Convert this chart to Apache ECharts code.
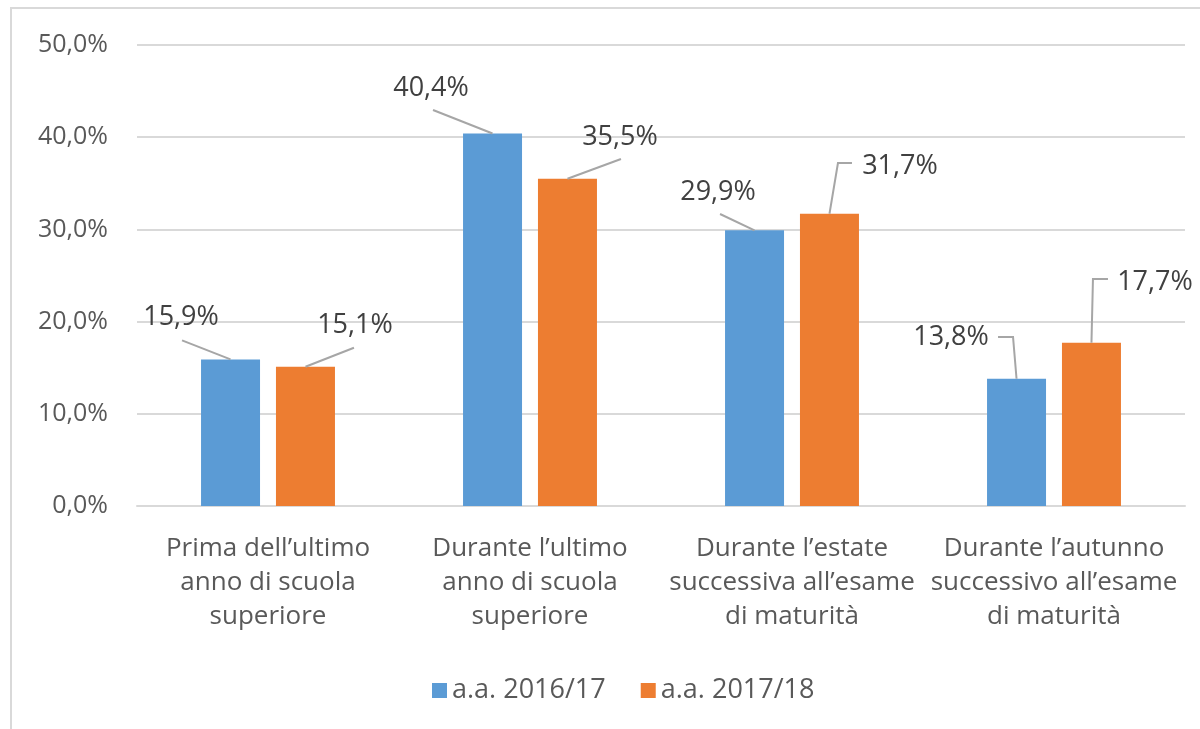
<!DOCTYPE html>
<html>
<head>
<meta charset="utf-8">
<script src="https://cdn.jsdelivr.net/npm/echarts@6/dist/echarts.min.js"></script>
<style>
  html, body { margin: 0; padding: 0; background: #ffffff; }
  #chart { width: 1200px; height: 729px; }
</style>
</head>
<body>
<div id="chart"></div>
<script>
const categories = [
  "Prima dell’ultimo\nanno di scuola\nsuperiore",
  "Durante l’ultimo\nanno di scuola\nsuperiore",
  "Durante l’estate\nsuccessiva all’esame\ndi maturità",
  "Durante l’autunno\nsuccessivo all’esame\ndi maturità"
];
const seriesNames = ["a.a. 2016/17", "a.a. 2017/18"];
const values2016 = [15.9, 40.4, 29.9, 13.8];
const values2017 = [15.1, 35.5, 31.7, 17.7];
const yTicks = { min: 0, max: 50, interval: 10 };

// Style: pixel placement of each data label relative to its bar's top centre,
// and the leader-line points (also relative to the bar's top centre).
const labelPos2016 = [[-49.5, -42], [-61.5, -45.5], [-36.5, -38.3], [-65.5, -41.8]];
const labelPos2017 = [[49.5, -41], [52.5, -41.7], [70.5, -47.7], [63.5, -60.8]];
const leader2016 = [
  [[-48.5, -19], [0, 0]],
  [[-59.5, -23.5], [0, 0]],
  [[-34.5, -16.3], [0, 0]],
  [[-18.5, -41.8], [-3.5, -41.8], [0, 0]]
];
const leader2017 = [
  [[48.5, -19], [0, 0]],
  [[53.5, -19.7], [0, 0]],
  [[22.5, -50.7], [8.5, -50.7], [0, 0]],
  [[16.5, -63.8], [1.5, -63.8], [0, 0]]
];

const FONT = "Open Sans";
const TEXT = "#595959";
const BAR_W = 59;
const BAR_GAP = 0.27;
const BAR_SHIFT = (BAR_W + BAR_W * BAR_GAP) / 2;
const fmt = v => Number(v).toFixed(1).replace('.', ',') + '%';

const chart = echarts.init(document.getElementById('chart'), null, { renderer: 'canvas' });

function barSeries(name, data, color) {
  return {
    name: name,
    type: 'bar',
    data: data,
    barWidth: BAR_W,
    barGap: (BAR_GAP * 100) + '%',
    itemStyle: { color: color },
    emphasis: { disabled: true }
  };
}

function labelSeries(name, data, side, labelPos, leader) {
  return {
    name: name,
    type: 'custom',
    data: data.map((v, i) => [i, v]),
    z: 5,
    silent: true,
    renderItem: function (params, api) {
      const i = params.dataIndex;
      const p = api.coord([api.value(0), api.value(1)]);
      const x0 = p[0] + side * BAR_SHIFT;
      const y0 = p[1];
      const lp = labelPos[i];
      const pts = leader[i].map(q => [x0 + q[0], y0 + q[1]]);
      return {
        type: 'group',
        children: [
          {
            type: 'polyline',
            shape: { points: pts },
            style: { stroke: '#a6a6a6', lineWidth: 2, fill: 'none' }
          },
          {
            type: 'text',
            style: {
              x: x0 + lp[0],
              y: y0 + lp[1],
              text: fmt(api.value(1)),
              align: 'center',
              verticalAlign: 'middle',
              fontFamily: FONT,
              fontSize: 27,
              fill: '#404040'
            }
          }
        ]
      };
    }
  };
}

chart.setOption({
  animation: false,
  backgroundColor: '#ffffff',
  textStyle: { fontFamily: FONT },
  graphic: [{
    type: 'rect',
    shape: { x: 11, y: 8, width: 1250, height: 800 },
    style: { fill: 'none', stroke: '#d9d9d9', lineWidth: 2 },
    silent: true,
    z: -10
  }],
  grid: { left: 137, right: 15, top: 45, bottom: 223, containLabel: false },
  legend: {
    data: seriesNames,
    left: 427,
    top: 672,
    icon: 'rect',
    itemWidth: 15,
    itemHeight: 15,
    itemGap: 35,
    textStyle: { fontFamily: FONT, fontSize: 27, color: TEXT }
  },
  xAxis: {
    type: 'category',
    data: categories,
    axisLine: { show: true, lineStyle: { color: '#d9d9d9', width: 2 } },
    axisTick: { show: false },
    axisLabel: {
      interval: 0,
      margin: 26,
      fontFamily: FONT,
      fontSize: 26,
      lineHeight: 34,
      color: TEXT,
      align: 'center'
    }
  },
  yAxis: {
    type: 'value',
    min: yTicks.min,
    max: yTicks.max,
    interval: yTicks.interval,
    axisLine: { show: false },
    axisTick: { show: false },
    splitLine: { lineStyle: { color: '#d9d9d9', width: 2 } },
    axisLabel: {
      margin: 29,
      formatter: v => fmt(v),
      fontFamily: FONT,
      fontSize: 25,
      color: TEXT
    }
  },
  series: [
    barSeries(seriesNames[0], values2016, '#5b9bd5'),
    barSeries(seriesNames[1], values2017, '#ed7d31'),
    labelSeries('labels2016', values2016, -1, labelPos2016, leader2016),
    labelSeries('labels2017', values2017, 1, labelPos2017, leader2017)
  ]
});
</script>
</body>
</html>
